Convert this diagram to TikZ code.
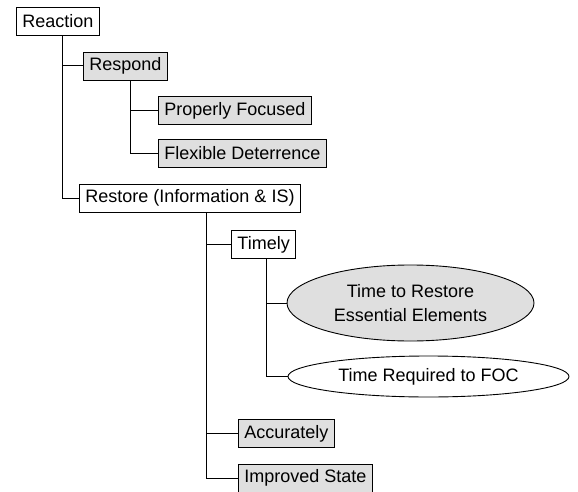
\documentclass[tikz,border=0pt]{standalone}
\usepackage{fontspec}
\setmainfont{Liberation Sans}
\usetikzlibrary{shapes.geometric,positioning}

\tikzset{
  item/.style={draw, line width=0.9pt, anchor=west, minimum height=28pt,
    inner xsep=6pt, inner ysep=0pt},
  plainitem/.style={item, fill=white},
  shadeitem/.style={item, fill=gray!25},
  measure/.style={draw, ellipse, line width=0.9pt, inner sep=0pt, align=center},
  branch/.style={line width=1pt}
}

\begin{document}
\begin{tikzpicture}[x=1pt, y=-1pt, line join=miter,
    font=\fontsize{18}{24}\selectfont]
  \useasboundingbox (0,0) rectangle (578,492);

  % top level
  \node[plainitem] (reaction) at (16,21) {Reaction};

  % respond branch
  \node[shadeitem] (respond) at (83,66) {Respond};
  \node[shadeitem] (focused) at (158,110.5) {Properly Focused};
  \node[shadeitem] (deterrence) at (158,153) {Flexible Deterrence};

  % restore branch
  \node[plainitem] (restore) at (79,198) {Restore (Information \& IS)};
  \node[plainitem] (timely) at (231,244.5) {Timely};
  \node[measure, fill=gray!25, minimum width=247pt, minimum height=76pt]
      (essential) at (410.5,303) {Time to Restore\\Essential Elements};
  \node[measure, fill=white, minimum width=281pt, minimum height=41pt]
      (foc) at (428.5,376.5) {Time Required to FOC};
  \node[shadeitem] (accurately) at (238,433.5) {Accurately};
  \node[shadeitem] (improved) at (238,478) {Improved State};

  % connectors
  \draw[branch] ([xshift=5pt]reaction.south) |- (respond.west);
  \draw[branch] ([xshift=5pt]reaction.south) |- (restore.west);
  \draw[branch] ([xshift=5.5pt]respond.south) |- (focused.west);
  \draw[branch] ([xshift=5.5pt]respond.south) |- (deterrence.west);
  \draw[branch] ([xshift=17pt]restore.south) |- (timely.west);
  \draw[branch] ([xshift=17pt]restore.south) |- (accurately.west);
  \draw[branch] ([xshift=17pt]restore.south) |- (improved.west);
  \draw[branch] ([xshift=3pt]timely.south) |- (essential.west);
  \draw[branch] ([xshift=3pt]timely.south) |- (foc.west);
\end{tikzpicture}
\end{document}
